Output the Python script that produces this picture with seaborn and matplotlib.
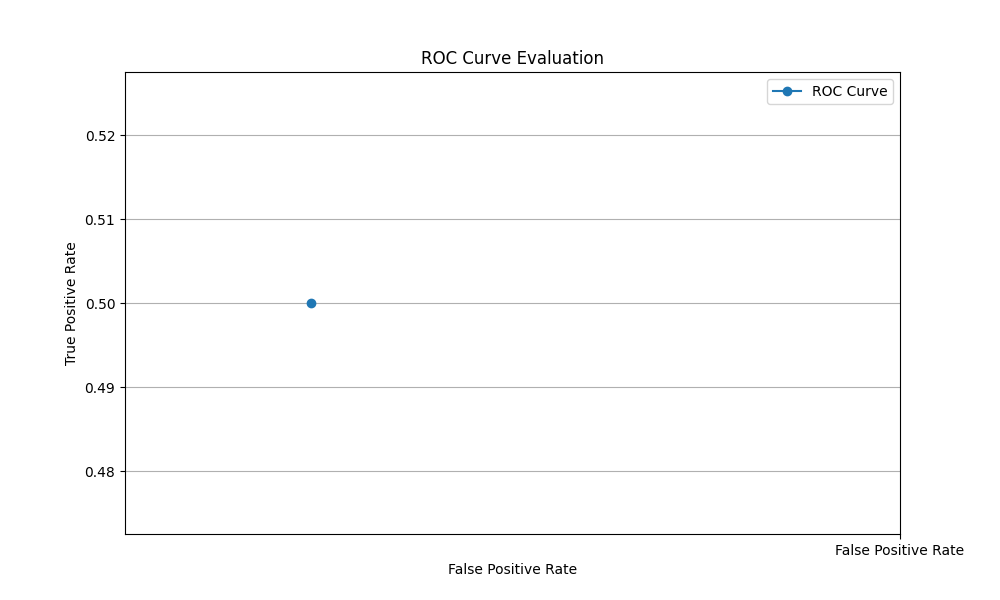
import matplotlib
matplotlib.use("Agg")
import matplotlib.pyplot as plt
import seaborn as sns
import pandas as pd

fpr = [0.2395]
tpr = [0.5]
x_tick_positions = [1.0]
x_tick_labels = ["False Positive Rate"]
y_ticks = [0.48, 0.49, 0.50, 0.51, 0.52]

df = pd.DataFrame({"fpr": fpr, "tpr": tpr})

fig, ax = plt.subplots(figsize=(10, 6), dpi=100)
sns.lineplot(data=df, x="fpr", y="tpr", marker="o", markersize=6,
             markeredgewidth=1, markeredgecolor="#1f77b4",
             color="#1f77b4", label="ROC Curve", ax=ax)
ax.set_xlim(0, 1)
ax.set_ylim(0.4725, 0.5275)
ax.set_xticks(x_tick_positions)
ax.set_xticklabels(x_tick_labels)
ax.set_yticks(y_ticks)
ax.set_yticklabels([f"{v:.2f}" for v in y_ticks])
ax.grid(axis="y")
ax.set_title("ROC Curve Evaluation")
ax.set_xlabel("False Positive Rate")
ax.set_ylabel("True Positive Rate")
ax.legend(loc="upper right")
fig.savefig("out.png", dpi=100)
